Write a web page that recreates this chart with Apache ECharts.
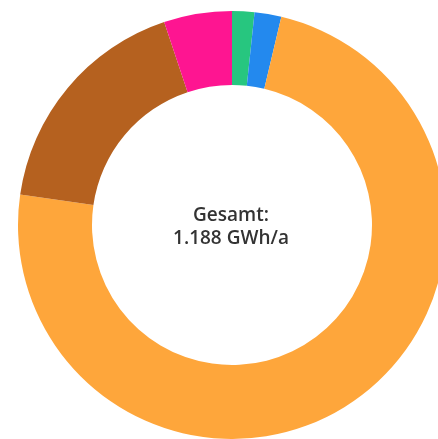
<!DOCTYPE html>
<html>
<head>
<meta charset="utf-8">
<script src="https://cdn.jsdelivr.net/npm/echarts@6/dist/echarts.min.js"></script>
<style>
  html, body { margin: 0; padding: 0; background: #ffffff; }
  #chart { width: 438px; height: 439px; }
</style>
</head>
<body>
<div id="chart"></div>
<script>
// Annual energy by source, in GWh/a, listed clockwise from 12 o'clock
const categories = ['Quelle A', 'Quelle B', 'Quelle C', 'Quelle D', 'Quelle E'];
const values = [20, 24, 874, 209, 61];
const colors = ['#27c67f', '#2389ee', '#fea63b', '#b5611f', '#fe1591'];

const total = values.reduce((a, b) => a + b, 0);
const totalText = 'Gesamt:\n' + total.toLocaleString('de-DE') + ' GWh/a';

const chart = echarts.init(document.getElementById('chart'), null, { renderer: 'canvas' });

chart.setOption({
  animation: false,
  backgroundColor: '#ffffff',
  title: {
    text: totalText,
    left: 231,
    top: 204,
    textAlign: 'center',
    padding: 0,
    textStyle: {
      color: '#333333',
      fontFamily: '"Open Sans", "Noto Sans", sans-serif',
      fontWeight: 600,
      fontSize: 19,
      lineHeight: 23
    }
  },
  series: [{
    type: 'pie',
    center: [232, 225],
    radius: [140, 214],
    startAngle: 90,
    clockwise: true,
    avoidLabelOverlap: false,
    label: { show: false },
    labelLine: { show: false },
    emphasis: { disabled: true },
    itemStyle: { borderWidth: 0 },
    data: categories.map((name, i) => ({
      name: name,
      value: values[i],
      itemStyle: { color: colors[i] }
    }))
  }]
});
</script>
</body>
</html>
